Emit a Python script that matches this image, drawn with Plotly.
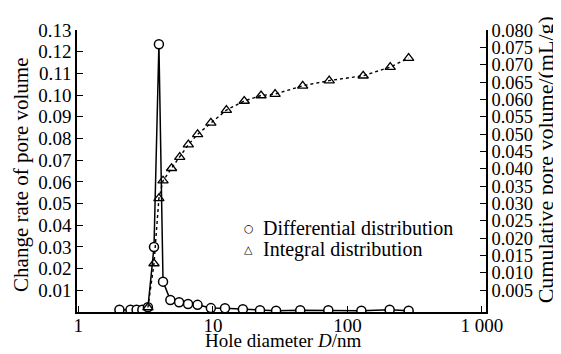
import plotly.graph_objects as go

# Differential distribution (left axis)
diff_d = [2.02, 2.44, 2.71, 2.99, 3.29, 3.65, 3.97, 4.26, 4.83, 5.61, 6.54, 7.69,
          9.66, 12.3, 16.7, 22.4, 29.5, 44.6, 72.1, 127, 206, 285]
diff_v = [0.0010, 0.0010, 0.0010, 0.0010, 0.0022, 0.0300, 0.1234, 0.0140, 0.0055,
          0.0045, 0.0037, 0.0033, 0.0018, 0.0017, 0.0013, 0.0008, 0.0006, 0.0008,
          0.0008, 0.0006, 0.0010, 0.0006]

# Integral distribution (right axis)
int_d = [3.29, 3.65, 3.97, 4.26, 4.93, 5.67, 6.57, 7.70, 9.66, 12.6, 17.1, 22.8,
         29.0, 46.5, 73.2, 131, 208, 285]
int_v = [0.0000, 0.0127, 0.0315, 0.0366, 0.0402, 0.0434, 0.0470, 0.0500, 0.0533,
         0.0570, 0.0596, 0.0612, 0.0616, 0.0640, 0.0655, 0.0669, 0.0694, 0.0720]

x_tickvals = [1, 10, 100, 1000]
x_ticktext = ["1", "10", "100", "1 000"]
left_ticks = [0.01, 0.02, 0.03, 0.04, 0.05, 0.06, 0.07, 0.08, 0.09, 0.10, 0.11, 0.12, 0.13]
left_text = ["0.01", "0.02", "0.03", "0.04", "0.05", "0.06", "0.07", "0.08", "0.09",
             "0.10", "0.11", "0.12", "0.13"]
right_ticks = [0.005 * i for i in range(1, 17)]
right_text = ["%.3f" % v for v in right_ticks]

legend_labels = ["Differential distribution", "Integral distribution"]
legend_symbols = ["○", "△"]

FONT = "Liberation Serif"
OFF = 8  # default page body margin
W, H = 553, 346
L, R, T, B = 69, 75, 14, 42
PW, PH = W - L - R, H - T - B

fig = go.Figure()

fig.add_trace(go.Scatter(
    x=int_d, y=int_v, yaxis="y2", mode="lines+markers", showlegend=False,
    line=dict(color="black", width=1.4, dash="dot"),
    marker=dict(symbol="triangle-up-open", size=9, color="black", line=dict(width=1.3)),
))
fig.add_trace(go.Scatter(
    x=diff_d, y=diff_v, mode="lines+markers", showlegend=False,
    line=dict(color="black", width=1.5),
    marker=dict(symbol="circle", size=9, color="white", line=dict(color="black", width=1.5)),
))

def px_x(p):
    return (p - OFF - L) / PW

def px_y(p):
    return (H - B - (p - OFF)) / PH

annotations = [
    dict(text="Change rate of pore volume", textangle=-90, showarrow=False,
         xref="paper", yref="paper", x=px_x(21), y=px_y(171),
         xanchor="center", yanchor="middle", font=dict(size=21)),
    dict(text="Cumulative pore volume/(mL/g)", textangle=-90, showarrow=False,
         xref="paper", yref="paper", x=px_x(545), y=px_y(156),
         xanchor="center", yanchor="middle", font=dict(size=22)),
    dict(text="Hole diameter <i>D</i>/nm", showarrow=False,
         xref="paper", yref="paper", x=px_x(283), y=px_y(341.5),
         xanchor="center", yanchor="middle", font=dict(size=19)),
]
for i, (sym, lab) in enumerate(zip(legend_symbols, legend_labels)):
    yy = 226 + 22 * i
    annotations.append(dict(text=sym, showarrow=False, xref="paper", yref="paper",
                            x=px_x(248.5), y=px_y(yy), xanchor="center", yanchor="middle",
                            font=dict(size=11, family="DejaVu Sans")))
    annotations.append(dict(text=lab, showarrow=False, xref="paper", yref="paper",
                            x=px_x(261), y=px_y(yy), xanchor="left", yanchor="middle",
                            font=dict(size=20)))

fig.update_layout(
    width=W, height=H,
    margin=dict(l=L, r=R, t=T, b=B),
    paper_bgcolor="white", plot_bgcolor="white",
    font=dict(family=FONT, size=19, color="black"),
    showlegend=False,
    xaxis=dict(
        type="log", range=[-0.01, 3.03],
        tickvals=x_tickvals, ticktext=x_ticktext,
        ticks="inside", ticklen=6, tickwidth=1.3, tickcolor="black",
        ticklabelstandoff=-5,
        showline=True, linecolor="black", linewidth=1.5, mirror=False,
        showgrid=False, zeroline=False,
    ),
    yaxis=dict(
        range=[0, 0.13],
        tickvals=left_ticks, ticktext=left_text,
        ticks="inside", ticklen=6, tickwidth=1.3, tickcolor="black",
        showline=True, linecolor="black", linewidth=1.5,
        showgrid=False, zeroline=False,
    ),
    yaxis2=dict(
        overlaying="y", side="right",
        range=[-0.0013, 0.0801],
        tickvals=right_ticks, ticktext=right_text,
        tickfont=dict(size=18.5),
        ticks="inside", ticklen=6, tickwidth=1.3, tickcolor="black",
        showline=True, linecolor="black", linewidth=1.5,
        showgrid=False, zeroline=False,
    ),
    annotations=annotations,
)

fig.write_html("out.html")
